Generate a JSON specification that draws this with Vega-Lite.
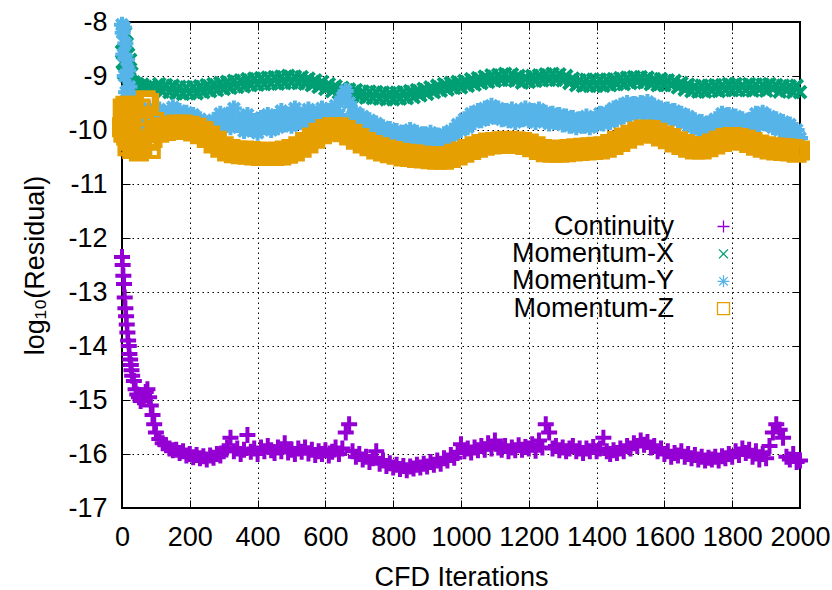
{
"$schema": "https://vega.github.io/schema/vega-lite/v6.json",
"width": 678, "height": 486,
"autosize": {"type": "none"},
"padding": {"left": 122, "top": 22, "right": 32, "bottom": 82},
"background": "white",
"config": {
  "view": {"stroke": "black", "strokeWidth": 2},
  "font": "Liberation Sans",
  "axis": {"labelFont": "Liberation Sans", "titleFont": "Liberation Sans", "labelFontSize": 27, "titleFontSize": 27, "titleFontWeight": "normal", "labelColor": "black", "titleColor": "black", "domain": false, "tickColor": "black", "tickWidth": 1, "tickSize": -8, "gridColor": "black", "gridWidth": 1, "gridDash": [1.5, 3.5], "gridOpacity": 1, "labelOverlap": false, "labelExpr": "datum.value + ''"},
  "legend": {"labelFont": "Liberation Sans", "labelFontSize": 27, "labelColor": "black"}
},
"data": {"values": [
{"i":0,"C":-12.35,"X":-8.55,"Y":-8.05,"Z":-9.95},
{"i":2,"C":-12.5,"X":-8.75,"Y":-8.2,"Z":-9.6},
{"i":4,"C":-12.7,"X":-8.35,"Y":-8.6,"Z":-10.05},
{"i":6,"C":-12.85,"X":-8.95,"Y":-8.1,"Z":-9.7},
{"i":8,"C":-13.1,"X":-8.5,"Y":-9.0,"Z":-9.85},
{"i":10,"C":-13.3,"X":-8.2,"Y":-8.4,"Z":-9.55},
{"i":12,"C":-13.45,"X":-8.8,"Y":-9.3,"Z":-10.1},
{"i":14,"C":-13.6,"X":-8.4,"Y":-8.7,"Z":-9.75},
{"i":16,"C":-13.75,"X":-9.0,"Y":-9.5,"Z":-10.3},
{"i":18,"C":-13.9,"X":-8.6,"Y":-8.9,"Z":-9.65},
{"i":20,"C":-14.0,"X":-8.9,"Y":-9.6,"Z":-10.0},
{"i":22,"C":-14.15,"X":-9.05,"Y":-9.2,"Z":-9.8},
{"i":24,"C":-14.25,"X":-8.7,"Y":-9.75,"Z":-10.2},
{"i":26,"C":-14.35,"X":-9.1,"Y":-9.4,"Z":-9.6},
{"i":28,"C":-14.45,"X":-8.95,"Y":-9.85,"Z":-9.9},
{"i":30,"C":-14.55,"X":-9.15,"Y":-9.6,"Z":-10.35},
{"i":35,"C":-14.65,"X":-9.12,"Y":-9.9,"Z":-9.55},
{"i":40,"C":-14.8,"X":-9.2,"Y":-9.7,"Z":-10.25},
{"i":45,"C":-14.9,"X":-9.15,"Y":-10.0,"Z":-9.75},
{"i":50,"C":-14.95,"X":-9.18,"Y":-9.65,"Z":-10.4},
{"i":55,"C":-15.02,"X":-9.2,"Y":-9.85,"Z":-9.6},
{"i":60,"C":-14.98,"X":-9.16,"Y":-9.75,"Z":-10.3},
{"i":65,"C":-14.92,"X":-9.22,"Y":-10.05,"Z":-9.9},
{"i":70,"C":-14.85,"X":-9.2,"Y":-9.7,"Z":-9.45},
{"i":75,"C":-14.8,"X":-9.23,"Y":-9.9,"Z":-10.2},
{"i":80,"C":-14.95,"X":-9.21,"Y":-9.6,"Z":-9.5},
{"i":85,"C":-15.1,"X":-9.24,"Y":-9.85,"Z":-10.35},
{"i":90,"C":-15.28,"X":-9.22,"Y":-9.7,"Z":-10.15},
{"i":95,"C":-15.45,"X":-9.25,"Y":-9.8,"Z":-9.85},
{"i":100,"C":-15.6,"X":-9.23,"Y":-9.75,"Z":-10.0},
{"i":110,"C":-15.72,"X":-9.15,"Y":-9.62,"Z":-10.05},
{"i":120,"C":-15.8,"X":-9.29,"Y":-9.88,"Z":-9.95},
{"i":130,"C":-15.84,"X":-9.17,"Y":-9.7,"Z":-10.02},
{"i":140,"C":-15.9,"X":-9.3,"Y":-9.82,"Z":-9.92},
{"i":150,"C":-15.93,"X":-9.18,"Y":-9.58,"Z":-10.0},
{"i":160,"C":-15.92,"X":-9.32,"Y":-9.8,"Z":-9.9},
{"i":170,"C":-15.98,"X":-9.2,"Y":-9.65,"Z":-9.98},
{"i":180,"C":-15.95,"X":-9.33,"Y":-9.85,"Z":-9.9},
{"i":190,"C":-16.03,"X":-9.21,"Y":-9.68,"Z":-10.0},
{"i":200,"C":-16.0,"X":-9.32,"Y":-9.9,"Z":-9.92},
{"i":210,"C":-16.06,"X":-9.2,"Y":-9.72,"Z":-10.03},
{"i":220,"C":-16.02,"X":-9.32,"Y":-9.95,"Z":-9.96},
{"i":230,"C":-16.08,"X":-9.19,"Y":-9.8,"Z":-10.08},
{"i":240,"C":-16.04,"X":-9.3,"Y":-10.02,"Z":-10.02},
{"i":250,"C":-16.1,"X":-9.17,"Y":-9.88,"Z":-10.15},
{"i":260,"C":-16.03,"X":-9.28,"Y":-10.05,"Z":-10.1},
{"i":270,"C":-16.07,"X":-9.15,"Y":-9.82,"Z":-10.25},
{"i":280,"C":-16.0,"X":-9.26,"Y":-9.98,"Z":-10.2},
{"i":290,"C":-16.03,"X":-9.13,"Y":-9.7,"Z":-10.33},
{"i":300,"C":-15.95,"X":-9.24,"Y":-9.92,"Z":-10.3},
{"i":310,"C":-15.88,"X":-9.11,"Y":-9.78,"Z":-10.4},
{"i":320,"C":-15.7,"X":-9.22,"Y":-9.95,"Z":-10.35},
{"i":330,"C":-15.95,"X":-9.09,"Y":-9.6,"Z":-10.43},
{"i":340,"C":-15.9,"X":-9.2,"Y":-9.9,"Z":-10.38},
{"i":350,"C":-16.0,"X":-9.08,"Y":-9.8,"Z":-10.45},
{"i":360,"C":-15.92,"X":-9.19,"Y":-10.02,"Z":-10.38},
{"i":370,"C":-15.65,"X":-9.06,"Y":-9.72,"Z":-10.46},
{"i":380,"C":-15.96,"X":-9.17,"Y":-9.98,"Z":-10.39},
{"i":390,"C":-15.9,"X":-9.05,"Y":-9.85,"Z":-10.47},
{"i":400,"C":-16.0,"X":-9.16,"Y":-10.05,"Z":-10.4},
{"i":410,"C":-15.88,"X":-9.04,"Y":-9.78,"Z":-10.48},
{"i":420,"C":-15.95,"X":-9.15,"Y":-9.95,"Z":-10.41},
{"i":430,"C":-15.85,"X":-9.03,"Y":-9.72,"Z":-10.48},
{"i":440,"C":-15.93,"X":-9.14,"Y":-10.0,"Z":-10.42},
{"i":450,"C":-15.98,"X":-9.02,"Y":-9.8,"Z":-10.48},
{"i":460,"C":-15.88,"X":-9.14,"Y":-9.95,"Z":-10.4},
{"i":470,"C":-15.95,"X":-9.01,"Y":-9.65,"Z":-10.47},
{"i":480,"C":-15.8,"X":-9.13,"Y":-9.9,"Z":-10.38},
{"i":490,"C":-15.97,"X":-9.0,"Y":-9.75,"Z":-10.44},
{"i":500,"C":-15.92,"X":-9.12,"Y":-9.92,"Z":-10.35},
{"i":510,"C":-16.0,"X":-9.01,"Y":-9.6,"Z":-10.4},
{"i":520,"C":-15.9,"X":-9.13,"Y":-9.85,"Z":-10.3},
{"i":530,"C":-15.96,"X":-9.02,"Y":-9.72,"Z":-10.33},
{"i":540,"C":-15.88,"X":-9.14,"Y":-9.88,"Z":-10.22},
{"i":550,"C":-15.99,"X":-9.05,"Y":-9.62,"Z":-10.25},
{"i":560,"C":-15.92,"X":-9.17,"Y":-9.82,"Z":-10.14},
{"i":570,"C":-16.02,"X":-9.08,"Y":-9.7,"Z":-10.16},
{"i":580,"C":-15.95,"X":-9.2,"Y":-9.85,"Z":-10.05},
{"i":590,"C":-16.0,"X":-9.11,"Y":-9.6,"Z":-10.08},
{"i":600,"C":-15.93,"X":-9.24,"Y":-9.78,"Z":-9.98},
{"i":610,"C":-16.03,"X":-9.15,"Y":-9.65,"Z":-10.02},
{"i":620,"C":-15.96,"X":-9.28,"Y":-9.8,"Z":-9.95},
{"i":630,"C":-15.88,"X":-9.19,"Y":-9.55,"Z":-10.0},
{"i":640,"C":-16.0,"X":-9.31,"Y":-9.72,"Z":-9.95},
{"i":650,"C":-15.9,"X":-9.22,"Y":-9.4,"Z":-10.04},
{"i":660,"C":-15.6,"X":-9.34,"Y":-9.28,"Z":-10.0},
{"i":670,"C":-15.45,"X":-9.25,"Y":-9.5,"Z":-10.1},
{"i":680,"C":-15.95,"X":-9.37,"Y":-9.75,"Z":-10.07},
{"i":690,"C":-16.05,"X":-9.26,"Y":-9.68,"Z":-10.18},
{"i":700,"C":-16.0,"X":-9.38,"Y":-9.85,"Z":-10.15},
{"i":710,"C":-16.1,"X":-9.29,"Y":-9.75,"Z":-10.25},
{"i":720,"C":-16.05,"X":-9.4,"Y":-9.92,"Z":-10.22},
{"i":730,"C":-16.15,"X":-9.29,"Y":-9.82,"Z":-10.3},
{"i":740,"C":-16.08,"X":-9.41,"Y":-10.0,"Z":-10.28},
{"i":750,"C":-15.95,"X":-9.3,"Y":-9.88,"Z":-10.36},
{"i":760,"C":-16.18,"X":-9.42,"Y":-10.05,"Z":-10.32},
{"i":770,"C":-16.12,"X":-9.31,"Y":-9.95,"Z":-10.4},
{"i":780,"C":-16.22,"X":-9.43,"Y":-10.1,"Z":-10.36},
{"i":790,"C":-16.17,"X":-9.32,"Y":-9.98,"Z":-10.43},
{"i":800,"C":-16.25,"X":-9.43,"Y":-10.12,"Z":-10.39},
{"i":810,"C":-16.2,"X":-9.31,"Y":-10.02,"Z":-10.46},
{"i":820,"C":-16.28,"X":-9.42,"Y":-10.18,"Z":-10.42},
{"i":830,"C":-16.22,"X":-9.3,"Y":-10.05,"Z":-10.49},
{"i":840,"C":-16.3,"X":-9.41,"Y":-10.15,"Z":-10.44},
{"i":850,"C":-16.23,"X":-9.28,"Y":-10.0,"Z":-10.5},
{"i":860,"C":-16.27,"X":-9.39,"Y":-10.2,"Z":-10.45},
{"i":870,"C":-16.2,"X":-9.26,"Y":-10.05,"Z":-10.52},
{"i":880,"C":-16.25,"X":-9.36,"Y":-10.18,"Z":-10.47},
{"i":890,"C":-16.18,"X":-9.24,"Y":-10.08,"Z":-10.53},
{"i":900,"C":-16.23,"X":-9.33,"Y":-10.22,"Z":-10.48},
{"i":910,"C":-16.15,"X":-9.21,"Y":-10.05,"Z":-10.54},
{"i":920,"C":-16.2,"X":-9.3,"Y":-10.2,"Z":-10.49},
{"i":930,"C":-16.12,"X":-9.18,"Y":-10.1,"Z":-10.55},
{"i":940,"C":-16.18,"X":-9.27,"Y":-10.25,"Z":-10.5},
{"i":950,"C":-16.08,"X":-9.15,"Y":-10.08,"Z":-10.55},
{"i":960,"C":-16.12,"X":-9.25,"Y":-10.2,"Z":-10.48},
{"i":970,"C":-16.02,"X":-9.13,"Y":-10.02,"Z":-10.52},
{"i":980,"C":-16.07,"X":-9.22,"Y":-10.1,"Z":-10.44},
{"i":990,"C":-15.98,"X":-9.11,"Y":-9.9,"Z":-10.47},
{"i":1000,"C":-15.82,"X":-9.21,"Y":-10.0,"Z":-10.4},
{"i":1010,"C":-15.95,"X":-9.09,"Y":-9.8,"Z":-10.42},
{"i":1020,"C":-15.9,"X":-9.18,"Y":-9.95,"Z":-10.35},
{"i":1030,"C":-15.97,"X":-9.06,"Y":-9.7,"Z":-10.37},
{"i":1040,"C":-15.88,"X":-9.16,"Y":-9.85,"Z":-10.3},
{"i":1050,"C":-15.93,"X":-9.04,"Y":-9.65,"Z":-10.33},
{"i":1060,"C":-15.85,"X":-9.13,"Y":-9.82,"Z":-10.26},
{"i":1070,"C":-15.92,"X":-9.01,"Y":-9.6,"Z":-10.29},
{"i":1080,"C":-15.8,"X":-9.11,"Y":-9.78,"Z":-10.23},
{"i":1090,"C":-15.9,"X":-8.99,"Y":-9.55,"Z":-10.27},
{"i":1100,"C":-15.75,"X":-9.09,"Y":-9.75,"Z":-10.22},
{"i":1110,"C":-15.88,"X":-8.98,"Y":-9.6,"Z":-10.26},
{"i":1120,"C":-15.92,"X":-9.07,"Y":-9.8,"Z":-10.21},
{"i":1130,"C":-15.85,"X":-8.96,"Y":-9.65,"Z":-10.25},
{"i":1140,"C":-15.95,"X":-9.07,"Y":-9.82,"Z":-10.2},
{"i":1150,"C":-15.88,"X":-8.97,"Y":-9.62,"Z":-10.25},
{"i":1160,"C":-15.93,"X":-9.09,"Y":-9.85,"Z":-10.21},
{"i":1170,"C":-15.84,"X":-9.0,"Y":-9.68,"Z":-10.26},
{"i":1180,"C":-15.92,"X":-9.12,"Y":-9.8,"Z":-10.22},
{"i":1190,"C":-15.87,"X":-9.02,"Y":-9.6,"Z":-10.28},
{"i":1200,"C":-15.9,"X":-9.11,"Y":-9.82,"Z":-10.25},
{"i":1210,"C":-15.82,"X":-9.0,"Y":-9.65,"Z":-10.32},
{"i":1220,"C":-15.94,"X":-9.09,"Y":-9.85,"Z":-10.3},
{"i":1230,"C":-15.75,"X":-8.99,"Y":-9.62,"Z":-10.37},
{"i":1240,"C":-15.88,"X":-9.08,"Y":-9.8,"Z":-10.35},
{"i":1250,"C":-15.45,"X":-8.97,"Y":-9.68,"Z":-10.41},
{"i":1260,"C":-15.6,"X":-9.07,"Y":-9.88,"Z":-10.37},
{"i":1270,"C":-15.9,"X":-8.96,"Y":-9.7,"Z":-10.42},
{"i":1280,"C":-15.85,"X":-9.07,"Y":-9.85,"Z":-10.37},
{"i":1290,"C":-15.93,"X":-8.97,"Y":-9.72,"Z":-10.42},
{"i":1300,"C":-15.88,"X":-9.08,"Y":-9.9,"Z":-10.36},
{"i":1310,"C":-15.95,"X":-9.0,"Y":-9.75,"Z":-10.41},
{"i":1320,"C":-15.9,"X":-9.13,"Y":-9.92,"Z":-10.35},
{"i":1330,"C":-15.85,"X":-9.05,"Y":-9.78,"Z":-10.4},
{"i":1340,"C":-15.95,"X":-9.17,"Y":-9.95,"Z":-10.34},
{"i":1350,"C":-15.9,"X":-9.08,"Y":-9.8,"Z":-10.39},
{"i":1360,"C":-15.98,"X":-9.18,"Y":-9.92,"Z":-10.33},
{"i":1370,"C":-15.9,"X":-9.07,"Y":-9.75,"Z":-10.38},
{"i":1380,"C":-15.95,"X":-9.18,"Y":-9.95,"Z":-10.32},
{"i":1390,"C":-15.87,"X":-9.07,"Y":-9.8,"Z":-10.37},
{"i":1400,"C":-15.95,"X":-9.18,"Y":-9.9,"Z":-10.31},
{"i":1410,"C":-15.9,"X":-9.07,"Y":-9.7,"Z":-10.36},
{"i":1420,"C":-15.7,"X":-9.18,"Y":-9.88,"Z":-10.3},
{"i":1430,"C":-15.95,"X":-9.07,"Y":-9.68,"Z":-10.33},
{"i":1440,"C":-16.0,"X":-9.17,"Y":-9.85,"Z":-10.26},
{"i":1450,"C":-15.93,"X":-9.06,"Y":-9.6,"Z":-10.28},
{"i":1460,"C":-15.98,"X":-9.15,"Y":-9.8,"Z":-10.2},
{"i":1470,"C":-15.9,"X":-9.04,"Y":-9.55,"Z":-10.22},
{"i":1480,"C":-15.95,"X":-9.15,"Y":-9.75,"Z":-10.14},
{"i":1490,"C":-15.85,"X":-9.03,"Y":-9.5,"Z":-10.16},
{"i":1500,"C":-15.9,"X":-9.13,"Y":-9.72,"Z":-10.09},
{"i":1510,"C":-15.8,"X":-9.02,"Y":-9.52,"Z":-10.1},
{"i":1520,"C":-15.85,"X":-9.11,"Y":-9.7,"Z":-10.03},
{"i":1530,"C":-15.75,"X":-9.02,"Y":-9.5,"Z":-10.05},
{"i":1540,"C":-15.83,"X":-9.12,"Y":-9.68,"Z":-9.99},
{"i":1550,"C":-15.78,"X":-9.03,"Y":-9.48,"Z":-10.04},
{"i":1560,"C":-15.88,"X":-9.15,"Y":-9.72,"Z":-10.0},
{"i":1570,"C":-15.85,"X":-9.06,"Y":-9.55,"Z":-10.07},
{"i":1580,"C":-15.95,"X":-9.17,"Y":-9.75,"Z":-10.05},
{"i":1590,"C":-15.9,"X":-9.06,"Y":-9.6,"Z":-10.12},
{"i":1600,"C":-16.0,"X":-9.17,"Y":-9.78,"Z":-10.1},
{"i":1610,"C":-15.95,"X":-9.08,"Y":-9.62,"Z":-10.17},
{"i":1620,"C":-16.05,"X":-9.17,"Y":-9.8,"Z":-10.15},
{"i":1630,"C":-15.98,"X":-9.09,"Y":-9.65,"Z":-10.23},
{"i":1640,"C":-16.03,"X":-9.21,"Y":-9.82,"Z":-10.21},
{"i":1650,"C":-15.95,"X":-9.13,"Y":-9.7,"Z":-10.28},
{"i":1660,"C":-16.05,"X":-9.25,"Y":-9.88,"Z":-10.26},
{"i":1670,"C":-16.0,"X":-9.16,"Y":-9.75,"Z":-10.33},
{"i":1680,"C":-16.08,"X":-9.28,"Y":-9.95,"Z":-10.3},
{"i":1690,"C":-16.02,"X":-9.19,"Y":-9.82,"Z":-10.36},
{"i":1700,"C":-16.1,"X":-9.29,"Y":-10.0,"Z":-10.32},
{"i":1710,"C":-16.05,"X":-9.18,"Y":-9.85,"Z":-10.36},
{"i":1720,"C":-16.12,"X":-9.29,"Y":-10.02,"Z":-10.3},
{"i":1730,"C":-16.07,"X":-9.18,"Y":-9.88,"Z":-10.32},
{"i":1740,"C":-16.1,"X":-9.27,"Y":-9.98,"Z":-10.25},
{"i":1750,"C":-16.05,"X":-9.17,"Y":-9.8,"Z":-10.27},
{"i":1760,"C":-16.12,"X":-9.28,"Y":-9.95,"Z":-10.2},
{"i":1770,"C":-16.04,"X":-9.17,"Y":-9.7,"Z":-10.22},
{"i":1780,"C":-16.08,"X":-9.26,"Y":-9.92,"Z":-10.15},
{"i":1790,"C":-16.0,"X":-9.15,"Y":-9.72,"Z":-10.18},
{"i":1800,"C":-16.05,"X":-9.26,"Y":-9.9,"Z":-10.13},
{"i":1810,"C":-15.95,"X":-9.15,"Y":-9.75,"Z":-10.18},
{"i":1820,"C":-16.02,"X":-9.26,"Y":-9.95,"Z":-10.15},
{"i":1830,"C":-15.9,"X":-9.17,"Y":-9.8,"Z":-10.2},
{"i":1840,"C":-15.98,"X":-9.26,"Y":-9.98,"Z":-10.18},
{"i":1850,"C":-15.92,"X":-9.15,"Y":-9.82,"Z":-10.24},
{"i":1860,"C":-16.05,"X":-9.27,"Y":-9.95,"Z":-10.22},
{"i":1870,"C":-15.95,"X":-9.16,"Y":-9.7,"Z":-10.29},
{"i":1880,"C":-16.1,"X":-9.25,"Y":-9.9,"Z":-10.27},
{"i":1890,"C":-16.0,"X":-9.16,"Y":-9.68,"Z":-10.33},
{"i":1900,"C":-16.08,"X":-9.27,"Y":-9.88,"Z":-10.3},
{"i":1910,"C":-15.85,"X":-9.15,"Y":-9.75,"Z":-10.36},
{"i":1920,"C":-15.6,"X":-9.24,"Y":-9.95,"Z":-10.32},
{"i":1930,"C":-15.45,"X":-9.17,"Y":-9.8,"Z":-10.38},
{"i":1940,"C":-15.55,"X":-9.29,"Y":-10.0,"Z":-10.33},
{"i":1950,"C":-15.7,"X":-9.18,"Y":-9.85,"Z":-10.39},
{"i":1960,"C":-16.05,"X":-9.27,"Y":-10.05,"Z":-10.34},
{"i":1970,"C":-16.1,"X":-9.19,"Y":-9.9,"Z":-10.4},
{"i":1980,"C":-16.0,"X":-9.3,"Y":-10.1,"Z":-10.35},
{"i":1990,"C":-16.15,"X":-9.18,"Y":-10.0,"Z":-10.42},
{"i":2000,"C":-16.12,"X":-9.3,"Y":-10.15,"Z":-10.38}
]},
"transform": [{"fold": ["C", "X", "Y", "Z"], "as": ["series", "value"]}],
"layer": [
  {
    "mark": {"type": "point", "filled": false, "strokeWidth": 4, "size": 256, "opacity": 1},
    "encoding": {
      "x": {"field": "i", "type": "quantitative", "scale": {"domain": [0, 2000], "nice": false, "zero": false},
            "axis": {"orient": "bottom", "values": [0,200,400,600,800,1000,1200,1400,1600,1800,2000], "grid": true, "title": "CFD Iterations", "labelPadding": 24, "titlePadding": 14, "labelFlush": false}},
      "y": {"field": "value", "type": "quantitative", "scale": {"domain": [-17, -8], "nice": false, "zero": false},
            "axis": {"orient": "left", "values": [-17,-16,-15,-14,-13,-12,-11,-10,-9,-8], "grid": true, "title": "log₁₀(Residual)", "labelPadding": 23, "titlePadding": 18}},
      "color": {"field": "series", "type": "nominal",
                "scale": {"domain": ["C", "X", "Y", "Z"], "range": ["#9400d3", "#009e73", "#56b4e9", "#e69f00"]},
                "legend": {"orient": "none", "legendX": 588, "legendY": 191, "title": null, "direction": "vertical",
                           "labelAlign": "right", "labelBaseline": "middle", "labelOffset": -63, "rowPadding": -0.6, "padding": 0,
                           "symbolSize": 144, "symbolStrokeWidth": 1.3, "symbolOpacity": 1, "symbolFillColor": "transparent", "labelLimit": 400,
                           "labelExpr": "{'C':'Continuity','X':'Momentum-X','Y':'Momentum-Y','Z':'Momentum-Z'}[datum.label]"}},
      "shape": {"field": "series", "type": "nominal",
                "scale": {"domain": ["C", "X", "Y", "Z"], "range": ["M-1,0L1,0M0,-1L0,1", "M-0.75,-0.75L0.75,0.75M-0.75,0.75L0.75,-0.75", "M-1,0L1,0M0,-1L0,1M-0.7,-0.7L0.7,0.7M-0.7,0.7L0.7,-0.7", "square"]}},
      "order": {"field": "series", "sort": "ascending"}
    }
  },
  {
    "mark": {"type": "point", "size": 0, "strokeOpacity": 0, "fillOpacity": 0},
    "encoding": {
      "x": {"field": "i", "type": "quantitative", "axis": {"orient": "top", "values": [0,200,400,600,800,1000,1200,1400,1600,1800,2000], "labels": false, "grid": false, "title": null}},
      "y": {"field": "value", "type": "quantitative", "axis": {"orient": "right", "values": [-17,-16,-15,-14,-13,-12,-11,-10,-9,-8], "labels": false, "grid": false, "title": null}}
    }
  }
],
"resolve": {"axis": {"x": "independent", "y": "independent"}}
}
